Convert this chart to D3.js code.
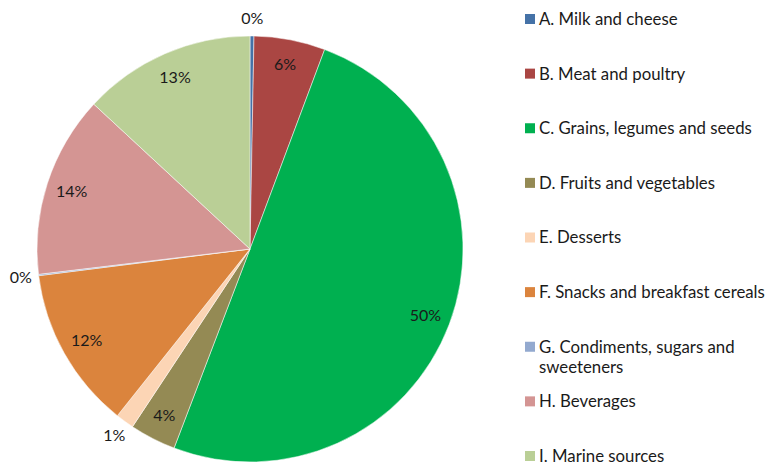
<!DOCTYPE html>
<html><head><meta charset="utf-8">
<script src="https://cdn.jsdelivr.net/npm/d3@7"></script>
<style>body{margin:0;background:#fff}svg{display:block}</style>
</head><body>
<script>
const categories = ["A. Milk and cheese","B. Meat and poultry","C. Grains, legumes and seeds","D. Fruits and vegetables","E. Desserts","F. Snacks and breakfast cereals","G. Condiments, sugars and sweeteners","H. Beverages","I. Marine sources"];
const legendLines = [["A. Milk and cheese"],["B. Meat and poultry"],["C. Grains, legumes and seeds"],["D. Fruits and vegetables"],["E. Desserts"],["F. Snacks and breakfast cereals"],["G. Condiments, sugars and","sweeteners"],["H. Beverages"],["I. Marine sources"]];
const values = [0.3, 5.4, 50.1, 3.5, 1.4, 12.3, 0.1, 13.8, 13.1];
const labels = ["0%","6%","50%","4%","1%","12%","0%","14%","13%"];
const outside = [true,false,false,false,true,false,true,false,false];
const colors = ["#4572A7","#AA4643","#00B050","#948A54","#FCD5B5","#DB843D","#93A9CF","#D49593","#BACF96"];

const W=773,H=465, cx=250, cy=249, R=213;
const font = "Lato, 'Open Sans', sans-serif";
const svg = d3.select("body").append("svg").attr("width",W).attr("height",H);
const g = svg.append("g").attr("transform",`translate(${cx},${cy})`);
const pie = d3.pie().sort(null).value(d=>d);
const arcs = pie(values);
const arc = d3.arc().innerRadius(0).outerRadius(R);
g.selectAll("path").data(arcs).join("path")
  .attr("d",arc).attr("fill",(d,i)=>colors[i])
  .attr("stroke","#fff").attr("stroke-width",0.5);
const inArc = d3.arc().innerRadius(R*0.88).outerRadius(R*0.88);
const outArc = d3.arc().innerRadius(R+18).outerRadius(R+18);
g.selectAll("text").data(arcs).join("text")
  .attr("transform",(d,i)=>`translate(${(outside[i]?outArc:inArc).centroid(d)})`)
  .attr("text-anchor","middle").attr("dy","0.35em")
  .style("font-family",font).style("font-size","16px").attr("fill","#1a1a1a")
  .text((d,i)=>labels[i]);

const leg = svg.append("g");
const y = d3.scalePoint().domain(d3.range(categories.length)).range([19,456]);
categories.forEach((c,i)=>{
  const row = leg.append("g").attr("transform",`translate(525,${y(i)})`);
  row.append("rect").attr("x",0).attr("y",-5).attr("width",10).attr("height",10).attr("fill",colors[i]);
  const t = row.append("text")
    .style("font-family",font).style("font-size","16.8px").attr("fill","#1a1a1a");
  legendLines[i].forEach((l,j)=>t.append("tspan").attr("x",14).attr("dy",j?"20px":"0.35em").text(l));
});
</script>
</body></html>
